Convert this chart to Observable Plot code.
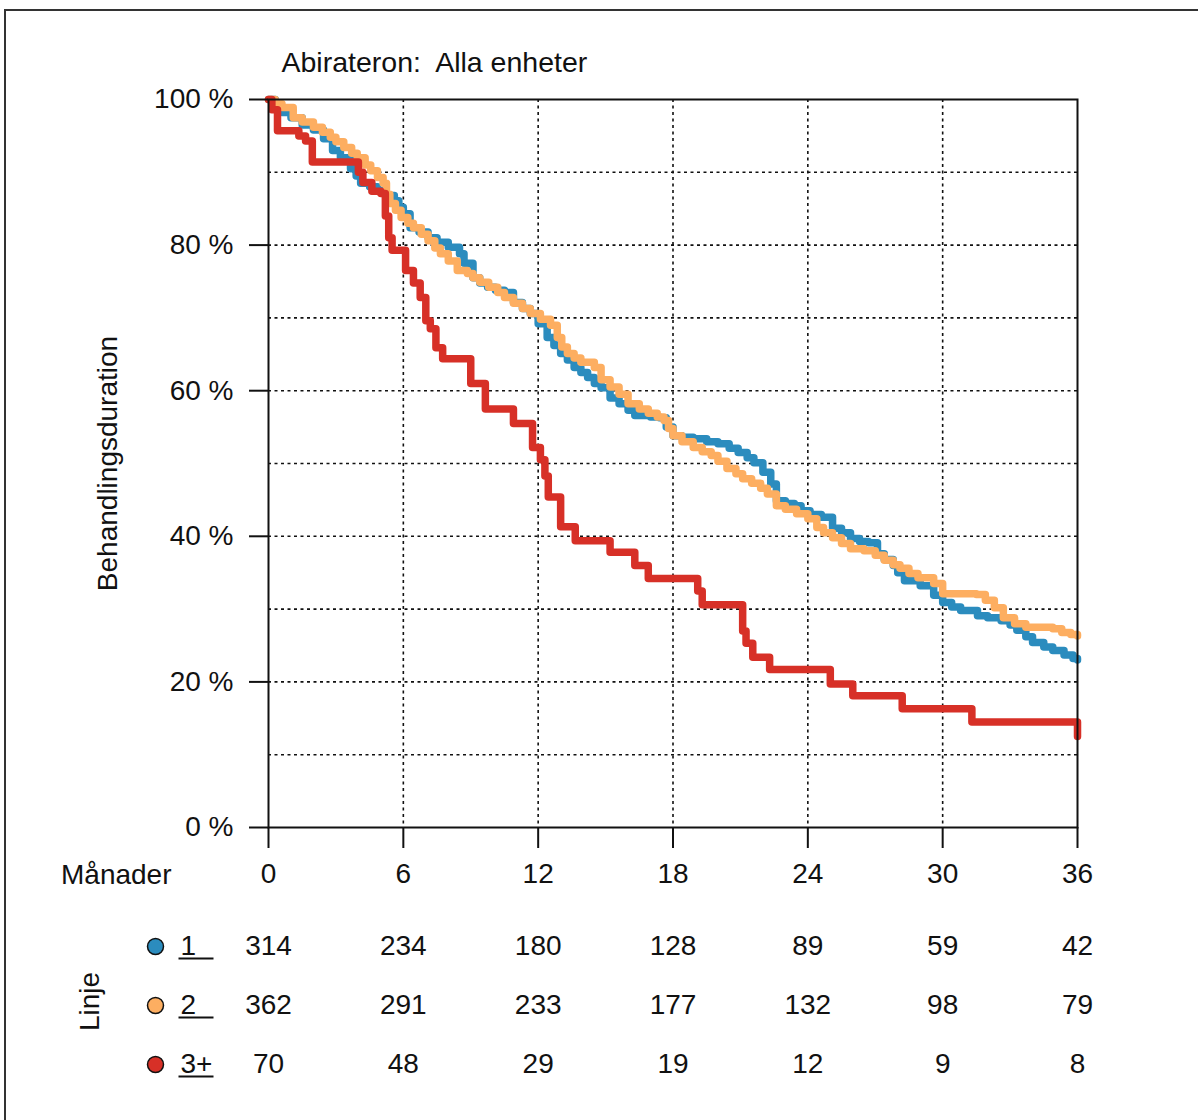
<!DOCTYPE html>
<html>
<head>
<meta charset="utf-8">
<script src="https://cdn.jsdelivr.net/npm/d3@7"></script>
<script src="https://cdn.jsdelivr.net/npm/@observablehq/plot@0.6"></script>
<style>
  body { margin: 0; background: #fff; font-family: "Liberation Sans", Arial, sans-serif; }
  #wrap { position: relative; width: 1198px; height: 1120px; overflow: hidden; background: #fff; }
  #frame { position: absolute; left: 4px; top: 9px; width: 1400px; height: 1400px;
           border-left: 2px solid #333; border-top: 2px solid #333; }
  #main { position: absolute; left: 0; top: 0; }
  #risk { position: absolute; left: 0; top: 900px; }
</style>
</head>
<body>
<div id="wrap">
  <div id="frame"></div>
  <div id="main"></div>
  <div id="risk"></div>
</div>
<script>
// ---- Data ----
const title = "Abirateron:\u00a0 Alla enheter";
const yLabel = "Behandlingsduration";
const xLabel = "Månader";
const legendTitle = "Linje";
const series = ["1", "2", "3+"];
const colors = ["#2b8cbe", "#fdae61", "#d73027"];
const months = [0, 6, 12, 18, 24, 30, 36];
const yTicks = [0, 20, 40, 60, 80, 100];
const gridY = [10, 20, 30, 40, 50, 60, 70, 80, 90];
const gridX = [6, 12, 18, 24, 30];

// [month, percent] step points
const linje1 = [[0,100],[0.3,99.0],[0.6,98.2],[1.0,97.5],[1.5,96.5],[2.0,95.8],[2.45,94.6],[2.85,93.0],[3.2,92.0],[3.65,90.5],[3.9,89.5],[4.1,88.5],[4.5,88.0],[4.85,87.5],[5.2,86.8],[5.6,86.1],[5.8,85.2],[6.0,84.3],[6.3,82.4],[6.7,81.8],[7.1,81.0],[7.5,80.4],[8.0,79.7],[8.5,78.8],[8.7,77.5],[9.1,75.5],[9.4,74.8],[9.75,74.2],[10.1,73.8],[10.5,73.5],[10.9,72.1],[11.3,71.3],[11.65,70.6],[12.0,69.2],[12.4,67.3],[12.7,66.2],[13.0,65.1],[13.3,64.2],[13.6,63.2],[13.9,62.5],[14.2,61.8],[14.5,61.0],[14.8,60.4],[15.2,59.0],[15.6,58.2],[16.0,57.3],[16.3,56.6],[17.0,56.4],[17.4,56.3],[17.7,55.0],[18.0,53.8],[18.4,53.6],[18.9,53.4],[19.5,53.0],[20.0,52.7],[20.5,52.1],[20.9,51.5],[21.3,50.8],[21.6,50.1],[22.0,48.8],[22.35,47.2],[22.6,44.9],[23.0,44.5],[23.4,44.2],[23.7,43.5],[24.1,43.0],[24.6,42.6],[25.1,41.1],[25.5,40.5],[25.9,39.7],[26.3,39.3],[26.7,39.1],[27.1,37.6],[27.4,36.8],[27.8,36.0],[28.0,35.0],[28.3,33.9],[29.0,33.2],[29.6,31.9],[30.0,30.9],[30.4,30.3],[30.8,29.8],[31.55,29.1],[32.0,28.8],[32.6,28.4],[33.0,27.8],[33.3,27.1],[33.7,26.2],[34.0,25.4],[34.5,24.8],[34.9,24.3],[35.4,23.7],[35.8,23.2],[36,23.0]];
const linje2 = [[0,100],[0.3,99.4],[0.6,98.9],[1.1,97.5],[1.5,96.9],[2.0,96.2],[2.4,95.5],[2.75,94.8],[3.0,94.2],[3.35,93.4],[3.7,92.6],[3.95,92.0],[4.3,91.0],[4.55,90.2],[4.85,89.3],[5.1,88.5],[5.25,87.0],[5.4,85.7],[5.65,84.8],[5.9,83.8],[6.2,83.0],[6.45,82.4],[6.8,81.5],[7.1,80.6],[7.4,79.6],[7.65,78.8],[8.0,77.8],[8.4,76.5],[8.85,76.1],[9.1,75.5],[9.4,74.9],[9.8,74.2],[10.2,73.5],[10.5,72.8],[10.9,72.0],[11.3,71.3],[11.65,70.6],[12.1,69.8],[12.55,69.0],[12.85,67.3],[13.05,66.0],[13.3,65.1],[13.6,64.5],[13.9,63.9],[14.5,63.2],[14.8,61.5],[15.2,60.5],[15.6,59.5],[16.0,58.2],[16.5,57.5],[16.9,56.9],[17.3,56.4],[17.6,55.9],[17.8,54.8],[18.0,53.8],[18.4,53.0],[18.9,52.2],[19.3,51.6],[19.7,51.1],[20.0,50.3],[20.4,49.3],[20.8,48.6],[21.1,47.9],[21.5,47.3],[21.9,46.6],[22.2,45.8],[22.6,44.2],[23.0,43.7],[23.5,43.1],[24.0,42.4],[24.4,41.2],[24.7,40.5],[25.1,39.8],[25.5,39.0],[25.9,38.3],[26.5,38.0],[27.0,37.4],[27.4,36.7],[27.8,36.1],[28.1,35.6],[28.5,34.9],[28.9,34.3],[29.6,33.5],[30.0,32.1],[31.5,32.0],[31.9,31.2],[32.3,30.2],[32.7,28.8],[33.2,28.0],[33.7,27.5],[34.9,27.3],[35.3,26.8],[35.7,26.5],[36,26.3]];
const linje3 = [[0,100],[0.15,98.6],[0.4,95.7],[1.35,95.0],[1.65,94.3],[1.95,91.4],[4.0,90.0],[4.2,88.6],[4.6,87.4],[5.0,87.1],[5.2,84.0],[5.35,81.0],[5.5,79.3],[6.1,76.5],[6.45,74.8],[6.75,72.8],[7.0,69.6],[7.2,68.5],[7.45,65.9],[7.75,64.4],[9.0,61.0],[9.65,57.5],[10.9,55.5],[11.75,52.2],[12.1,50.5],[12.3,48.3],[12.45,45.4],[13.0,41.3],[13.65,39.4],[15.2,37.8],[16.3,36.0],[16.9,34.2],[19.1,32.5],[19.3,30.6],[21.1,27.0],[21.25,25.3],[21.55,23.4],[22.3,21.7],[25.0,19.7],[26.0,18.1],[28.2,16.3],[31.3,14.5],[36,12.5]];

// numbers at risk per month tick
const risk1 = [314, 234, 180, 128, 89, 59, 42];
const risk2 = [362, 291, 233, 177, 132, 98, 79];
const risk3 = [70, 48, 29, 19, 12, 9, 8];

// ---- Build tables ----
const curves = [linje1, linje2, linje3];
const curveData = curves.flatMap((c, i) => c.map(([t, v]) => ({ t, v, s: series[i] })));
const risks = [risk1, risk2, risk3];
const riskData = risks.flatMap((r, i) => r.map((n, j) => ({ m: months[j], n, s: series[i] })));

const font = '"Liberation Sans", Arial, sans-serif';
const ink = "#111";
const fs = 28;

const main = Plot.plot({
  width: 1198, height: 900,
  marginLeft: 268, marginRight: 121, marginTop: 99, marginBottom: 73,
  style: { fontFamily: font, fontSize: fs + "px", color: ink, background: "transparent", overflow: "visible" },
  x: { domain: [0, 36] },
  y: { domain: [0, 100] },
  color: { domain: series, range: colors },
  marks: [
    Plot.ruleY(gridY, { stroke: ink, strokeWidth: 1.6, strokeDasharray: "3,3.5" }),
    Plot.ruleX(gridX, { stroke: ink, strokeWidth: 1.6, strokeDasharray: "3,3.5" }),
    Plot.line(curveData, { x: "t", y: "v", z: "s", stroke: "s", curve: "step-after", strokeWidth: 7.5 }),
    Plot.frame({ stroke: ink, strokeWidth: 2 }),
    Plot.axisY({ ticks: yTicks, tickFormat: d => d + " %", tickSize: 19, tickPadding: 16, label: null, fontSize: fs, strokeWidth: 2 }),
    Plot.axisX({ ticks: months, tickSize: 21, tickPadding: 15, label: null, fontSize: fs, strokeWidth: 2 }),
    Plot.text([title], { frameAnchor: "top-left", dx: 13, dy: -28, lineAnchor: "bottom", textAnchor: "start", fontSize: 28.5, fill: ink }),
    Plot.text([yLabel], { frameAnchor: "left", dx: -160, rotate: -90, textAnchor: "middle", lineAnchor: "middle", fontSize: fs, fill: ink }),
    Plot.text([xLabel], { frameAnchor: "bottom-left", dx: -97, dy: 48, textAnchor: "end", lineAnchor: "middle", fontSize: fs, fill: ink })
  ]
});
document.getElementById("main").appendChild(main);

const labelText = d => d.length < 2 ? d + "\u2007" : d;
const risk = Plot.plot({
  width: 1198, height: 220,
  marginLeft: 268, marginRight: 121, marginTop: 0, marginBottom: 0,
  style: { fontFamily: font, fontSize: fs + "px", color: ink, background: "transparent", overflow: "visible" },
  x: { domain: [0, 36], axis: null },
  y: { type: "point", domain: series, range: [46, 164], padding: 0, axis: null },
  color: { domain: series, range: colors },
  marks: [
    Plot.text(riskData, { x: "m", y: "s", text: "n", fontSize: fs, fill: ink }),
    Plot.dot(series, { x: () => 0, y: d => d, dx: -113, r: 8, fill: d => d, stroke: ink, strokeWidth: 1.5 }),
    Plot.text(series, { x: () => 0, y: d => d, dx: -88, text: labelText, textAnchor: "start", fontSize: fs, fill: ink }),
    Plot.text([legendTitle], { x: () => 0, y: () => series[1], dx: -178, dy: -4, rotate: -90, fontSize: fs, fill: ink })
  ]
});
document.getElementById("risk").appendChild(risk);
// underline the legend labels (R-style underlined series labels)
const wanted = new Set(series.map(labelText));
risk.querySelectorAll("text").forEach(t => {
  if (!wanted.has(t.textContent)) return;
  const b = t.getBBox();
  const ln = document.createElementNS("http://www.w3.org/2000/svg", "line");
  ln.setAttribute("x1", b.x - 2);
  ln.setAttribute("x2", b.x + 33);
  ln.setAttribute("y1", b.y + b.height - 3);
  ln.setAttribute("y2", b.y + b.height - 3);
  ln.setAttribute("stroke", ink);
  ln.setAttribute("stroke-width", 2);
  const tr = t.getAttribute("transform");
  if (tr) ln.setAttribute("transform", tr);
  t.parentNode.appendChild(ln);
});
</script>
</body>
</html>
